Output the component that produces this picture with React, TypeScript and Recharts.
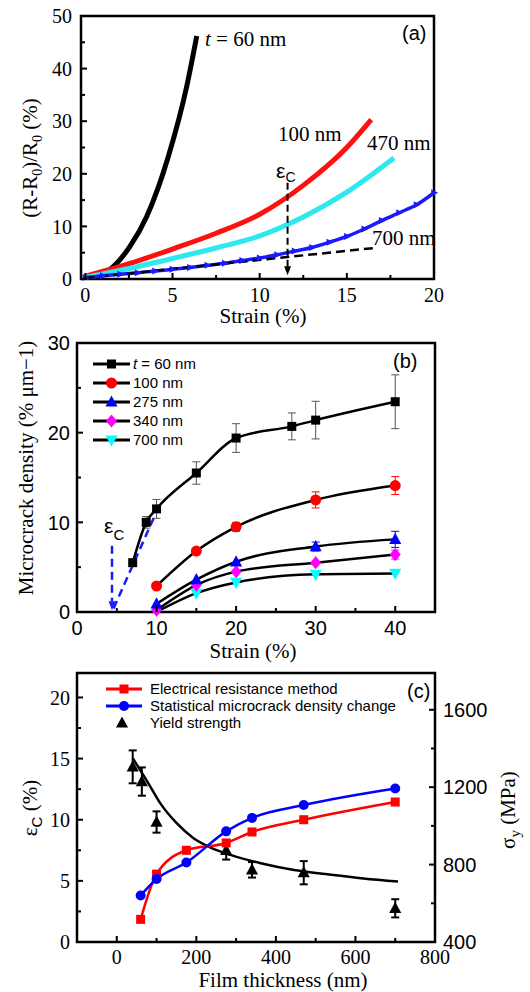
import React from 'react';
import {
  LineChart,
  ComposedChart,
  Line,
  XAxis,
  YAxis,
  ReferenceArea,
  ReferenceLine,
  ReferenceDot,
  ErrorBar,
  Legend,
} from 'recharts';

const SERIF = '"Liberation Serif", "Times New Roman", serif';
const SANS = '"Liberation Sans", Arial, sans-serif';

// ---- panel (a): resistance change vs strain
const strainA60 = [0, 1, 1.8, 2.56, 3.52, 4.76, 5.82, 6.39];
const resA60 = [0.4, 1.0, 3.0, 6.2, 11.9, 23.3, 36.7, 46.2];
const strainA100 = [0, 2.5, 5, 7.5, 10, 12.5, 15, 16.4];
const resA100 = [0.5, 2.9, 5.7, 8.7, 12.3, 17.8, 25, 30.3];
const strainA470 = [0, 2.5, 5, 7.5, 10, 12.5, 15, 17.7];
const resA470 = [0.3, 2.0, 3.9, 5.9, 8.2, 11.8, 16.5, 23];
const strainA700 = [0, 1, 2, 3, 4, 5, 6, 7, 8, 9, 10, 11, 12, 13, 14, 15, 16, 17, 18, 19, 20];
const resA700 = [0.3, 0.6, 0.9, 1.2, 1.5, 1.85, 2.2, 2.6, 3.0, 3.5, 4.0, 4.6, 5.3, 6.0, 7.0, 8.1, 9.5, 11.1, 12.6, 14.1, 16.4];
const strainLinear = [0, 16.6];
const resLinear = [0.2, 5.9];
const epsCA = 11.6;

// ---- panel (b): microcrack density vs strain
const strainB60 = [7, 8.7, 10, 15, 20, 27, 30, 40];
const dens60 = [5.5, 10.0, 11.5, 15.5, 19.4, 20.7, 21.4, 23.45];
const err60 = [0, 0.65, 1.05, 1.25, 1.6, 1.5, 2.1, 3.0];
const strainB = [10, 15, 20, 30, 40];
const dens100 = [2.9, 6.8, 9.5, 12.5, 14.1];
const err100 = [0, 0, 0.5, 0.9, 1.0];
const dens275 = [0.9, 3.6, 5.6, 7.3, 8.1];
const err275 = [0, 0, 0, 0.5, 0.9];
const dens340 = [0.2, 3.0, 4.5, 5.5, 6.4];
const err340 = [0, 0, 0, 0, 0.5];
const dens700 = [0, 2.1, 3.3, 4.2, 4.3];
const strainOnset = [4.6, 9.9];
const densOnset = [0.4, 11];
const epsCB = 4.4;

// ---- panel (c): critical strain and yield strength vs thickness
const thick = [60, 100, 175, 275, 340, 470, 700];
const epsElectrical = [1.85, 5.55, 7.5, 8.1, 9.0, 10.0, 11.45];
const epsMicrocrack = [3.8, 5.15, 6.5, 9.05, 10.15, 11.2, 12.55];
const thickYield = [40, 63, 100, 275, 340, 470, 700];
const yieldStrength = [1305, 1229, 1020, 874, 773, 758, 574];
const yieldErr = [85, 73, 55, 48, 40, 60, 47];
const thickFit = [40, 75, 110, 150, 193, 236, 286, 362, 446, 539, 620, 707];
const yieldFit = [1350, 1235, 1115, 1015, 936, 888, 850, 807, 772, 747, 728, 712];

const pts = (xs: number[], ys: number[], es?: number[]) =>
  xs.map((x, i) => ({ x, y: ys[i], e: es ? es[i] : 0 }));

const range = (a: number, b: number, s: number) => {
  const out: number[] = [];
  for (let v = a; v <= b + 1e-9; v += s) out.push(Math.round(v * 100) / 100);
  return out;
};

function makeTick(side: 'left' | 'right' | 'bottom', majors: number[], font: string, gap: number) {
  return (p: any) => {
    const x = Number(p.x);
    const y = Number(p.y);
    const v = p.payload?.value;
    const major = majors.includes(v);
    const len = major ? 6 : 4;
    const txt = { fontFamily: font, fontSize: 20, fill: '#000' };
    if (side === 'left') {
      return (
        <g>
          <line x1={x} y1={y} x2={x + len} y2={y} stroke="#000" strokeWidth={2} />
          {major && (
            <text x={x - gap} y={y} dy="0.36em" textAnchor="end" {...txt}>{v}</text>
          )}
        </g>
      );
    }
    if (side === 'right') {
      return (
        <g>
          <line x1={x} y1={y} x2={x - len} y2={y} stroke="#000" strokeWidth={2} />
          {major && (
            <text x={x + gap} y={y} dy="0.36em" textAnchor="start" {...txt}>{v}</text>
          )}
        </g>
      );
    }
    return (
      <g>
        <line x1={x} y1={y} x2={x} y2={y - len} stroke="#000" strokeWidth={2} />
        {major && (
          <text x={x} y={y + gap} textAnchor="middle" {...txt}>{v}</text>
        )}
      </g>
    );
  };
}

// marker shapes
const square = (fill: string, s: number) => (p: any) =>
  <rect key={p.index} x={p.cx - s / 2} y={p.cy - s / 2} width={s} height={s} fill={fill} />;
const circle = (fill: string, r: number) => (p: any) =>
  <circle key={p.index} cx={p.cx} cy={p.cy} r={r} fill={fill} />;
const triUp = (fill: string, s: number) => (p: any) => (
  <path key={p.index} fill={fill}
    d={`M${p.cx},${p.cy - s * 0.6}L${p.cx + s * 0.55},${p.cy + s * 0.42}L${p.cx - s * 0.55},${p.cy + s * 0.42}Z`} />
);
const triDown = (fill: string, s: number, skipFirst = false) => (p: any) =>
  skipFirst && p.index === 0 ? <g key={p.index} /> : (
    <path key={p.index} fill={fill}
      d={`M${p.cx},${p.cy + s * 0.6}L${p.cx + s * 0.55},${p.cy - s * 0.42}L${p.cx - s * 0.55},${p.cy - s * 0.42}Z`} />
  );
const diamond = (fill: string, s: number) => (p: any) => (
  <path key={p.index} fill={fill}
    d={`M${p.cx},${p.cy - s * 0.6}L${p.cx + s * 0.5},${p.cy}L${p.cx},${p.cy + s * 0.6}L${p.cx - s * 0.5},${p.cy}Z`} />
);
const triRight = (fill: string, s: number) => (p: any) => (
  <path key={p.index} fill={fill}
    d={`M${p.cx + s * 0.6},${p.cy}L${p.cx - s * 0.4},${p.cy - s * 0.5}L${p.cx - s * 0.4},${p.cy + s * 0.5}Z`} />
);
const arrowDown = (fill: string) => (p: any) => (
  <path fill={fill} d={`M${p.cx - 3.5},${p.cy - 9}L${p.cx + 3.5},${p.cy - 9}L${p.cx},${p.cy}Z`} />
);

const axisCommon = {
  type: 'number' as const,
  interval: 0 as const,
  tickSize: 0,
  tickMargin: 0,
  axisLine: false,
  tickLine: false,
};

function ChartA() {
  return (
    <LineChart width={530} height={330} margin={{ top: 16, right: 96, bottom: 0, left: 0 }}>
      <XAxis {...axisCommon} dataKey="x" domain={[-0.25, 20]} ticks={range(0, 20, 2.5)} height={51}
        tick={makeTick('bottom', [0, 5, 10, 15, 20], SERIF, 23)} />
      <YAxis {...axisCommon} domain={[0, 50]} ticks={range(0, 50, 5)} width={81}
        tick={makeTick('left', [0, 10, 20, 30, 40, 50], SERIF, 9)} />
      <ReferenceArea x1={-0.25} x2={20} y1={0} y2={50} fill="none" stroke="#000" strokeWidth={2.5} />
      <Line data={pts(strainA60, resA60)} dataKey="y" type="monotone" stroke="#000" strokeWidth={5} dot={false} isAnimationActive={false} />
      <Line data={pts(strainA100, resA100)} dataKey="y" type="monotone" stroke="#ff1010" strokeWidth={5} dot={false} isAnimationActive={false} />
      <Line data={pts(strainA470, resA470)} dataKey="y" type="monotone" stroke="#2ee8ee" strokeWidth={5} dot={false} isAnimationActive={false} />
      <Line data={pts(strainA700, resA700)} dataKey="y" type="monotone" stroke="#1a1aff" strokeWidth={3.5} dot={triRight('#1a1aff', 7)} isAnimationActive={false} />
      <Line data={pts(strainLinear, resLinear)} dataKey="y" type="linear" stroke="#000" strokeWidth={2.5} strokeDasharray="9 5" dot={false} isAnimationActive={false} />
      <ReferenceLine segment={[{ x: epsCA, y: 18.3 }, { x: epsCA, y: 2 }]} stroke="#000" strokeWidth={2} strokeDasharray="7 4" />
      <ReferenceDot x={epsCA} y={0.7} r={0} shape={arrowDown('#000')} />
    </LineChart>
  );
}

const legendB = [
  { label: 't', rest: ' = 60 nm', shape: square('#000', 9) },
  { label: '', rest: '100 nm', shape: circle('#ff0000', 5.5) },
  { label: '', rest: '275 nm', shape: triUp('#0000ff', 11) },
  { label: '', rest: '340 nm', shape: diamond('#ff00ff', 11) },
  { label: '', rest: '700 nm', shape: triDown('#00ffff', 11) },
];

function LegendB() {
  return (
    <svg width={150} height={100}>
      {legendB.map((r, i) => {
        const cy = 9 + 19 * i;
        return (
          <g key={i}>
            <line x1={5} y1={cy} x2={42} y2={cy} stroke="#000" strokeWidth={3} />
            {r.shape({ cx: 23.5, cy, index: i })}
            <text x={45} y={cy} dy="0.36em" fontFamily={SANS} fontSize={15} fill="#000">
              {r.label && <tspan fontStyle="italic">{r.label}</tspan>}
              {r.rest}
            </text>
          </g>
        );
      })}
    </svg>
  );
}

function ChartB() {
  const errStyle = (c: string) => ({ dataKey: 'e', width: 4, strokeWidth: 1, stroke: c, direction: 'y' as const });
  return (
    <LineChart width={530} height={335} margin={{ top: 13, right: 95, bottom: 0, left: 0 }}>
      <XAxis {...axisCommon} dataKey="x" domain={[0, 45]} ticks={range(0, 45, 5)} height={53}
        tick={makeTick('bottom', [0, 10, 20, 30, 40], SANS, 23)} />
      <YAxis {...axisCommon} domain={[0, 30]} ticks={range(0, 30, 5)} width={77}
        tick={makeTick('left', [0, 10, 20, 30], SANS, 7)} />
      <ReferenceArea x1={0} x2={45} y1={0} y2={30} fill="none" stroke="#000" strokeWidth={2.5} />
      <Legend layout="vertical" align="center" verticalAlign="middle"
        wrapperStyle={{ left: 88, top: 25, width: 150, height: 100 }} content={() => <LegendB />} />
      <Line data={pts(strainB, dens700)} dataKey="y" type="monotone" stroke="#000" strokeWidth={2.5} dot={triDown('#00ffff', 11, true)} isAnimationActive={false} />
      <Line data={pts(strainB, dens340, err340)} dataKey="y" type="monotone" stroke="#000" strokeWidth={2.5} dot={diamond('#ff00ff', 11)} isAnimationActive={false}>
        <ErrorBar {...errStyle('#ff00ff')} />
      </Line>
      <Line data={pts(strainB, dens275, err275)} dataKey="y" type="monotone" stroke="#000" strokeWidth={2.5} dot={triUp('#0000ff', 11)} isAnimationActive={false}>
        <ErrorBar {...errStyle('#0000ff')} />
      </Line>
      <Line data={pts(strainB, dens100, err100)} dataKey="y" type="monotone" stroke="#000" strokeWidth={2.5} dot={circle('#ff0000', 5.5)} isAnimationActive={false}>
        <ErrorBar {...errStyle('#ff0000')} />
      </Line>
      <Line data={pts(strainOnset, densOnset)} dataKey="y" type="linear" stroke="#1a1aff" strokeWidth={2.5} strokeDasharray="8 5" dot={false} isAnimationActive={false} />
      <Line data={pts(strainB60, dens60, err60)} dataKey="y" type="monotone" stroke="#000" strokeWidth={2.5} dot={square('#000', 9)} isAnimationActive={false}>
        <ErrorBar {...errStyle('#555')} />
      </Line>
      <ReferenceLine segment={[{ x: epsCB, y: 7.4 }, { x: epsCB, y: 1.2 }]} stroke="#1a1aff" strokeWidth={2.5} strokeDasharray="8 5" />
      <ReferenceDot x={epsCB} y={0.2} r={0} shape={arrowDown('#1a1aff')} />
    </LineChart>
  );
}

function LegendC() {
  return (
    <svg width={300} height={55}>
      <line x1={6} y1={9} x2={42} y2={9} stroke="#ff0000" strokeWidth={3} />
      {square('#ff0000', 9)({ cx: 24, cy: 9, index: 0 })}
      <text x={50} y={9} dy="0.36em" fontFamily={SANS} fontSize={15}>Electrical resistance method</text>
      <line x1={6} y1={26} x2={42} y2={26} stroke="#0000ff" strokeWidth={3} />
      {circle('#0000ff', 5)({ cx: 24, cy: 26, index: 1 })}
      <text x={50} y={26} dy="0.36em" fontFamily={SANS} fontSize={15}>Statistical microcrack density change</text>
      {triUp('#000', 11)({ cx: 22, cy: 43, index: 2 })}
      <text x={50} y={43} dy="0.36em" fontFamily={SANS} fontSize={15}>Yield strength</text>
    </svg>
  );
}

function ChartC() {
  return (
    <ComposedChart width={530} height={327} margin={{ top: 8, right: 0, bottom: 0, left: 0 }}>
      <XAxis {...axisCommon} dataKey="x" domain={[-100, 800]} ticks={range(0, 800, 100)} height={50}
        tick={makeTick('bottom', [0, 200, 400, 600, 800], SERIF, 22)} />
      <YAxis {...axisCommon} yAxisId="left" domain={[0, 22]} ticks={range(0, 20, 2.5)} width={77}
        tick={makeTick('left', [0, 5, 10, 15, 20], SERIF, 7)} />
      <YAxis {...axisCommon} yAxisId="right" orientation="right" domain={[400, 1790]} ticks={range(400, 1600, 200)} width={95}
        tick={makeTick('right', [400, 800, 1200, 1600], SANS, 8)} />
      <ReferenceArea yAxisId="left" x1={-100} x2={800} y1={0} y2={22} fill="none" stroke="#000" strokeWidth={2.5} />
      <Legend layout="vertical" align="center" verticalAlign="middle"
        wrapperStyle={{ left: 100, top: 15, width: 300, height: 55 }} content={() => <LegendC />} />
      <Line yAxisId="right" data={pts(thickFit, yieldFit)} dataKey="y" type="monotone" stroke="#000" strokeWidth={2.5} dot={false} isAnimationActive={false} />
      <Line yAxisId="right" data={pts(thickYield, yieldStrength, yieldErr)} dataKey="y" stroke="none" dot={triUp('#000', 11)} isAnimationActive={false}>
        <ErrorBar dataKey="e" width={4} strokeWidth={2} stroke="#000" direction="y" />
      </Line>
      <Line yAxisId="left" data={pts(thick, epsElectrical)} dataKey="y" type="monotone" stroke="#ff0000" strokeWidth={2.5} dot={square('#ff0000', 9)} isAnimationActive={false} />
      <Line yAxisId="left" data={pts(thick, epsMicrocrack)} dataKey="y" type="monotone" stroke="#0000ff" strokeWidth={2.5} dot={circle('#0000ff', 5)} isAnimationActive={false} />
    </ComposedChart>
  );
}

function Texts() {
  const serif = { fontFamily: SERIF, fontSize: 21, fill: '#000' };
  const sans = { fontFamily: SANS, fontSize: 20, fill: '#000' };
  return (
    <svg width={530} height={992} style={{ position: 'absolute', left: 0, top: 0, pointerEvents: 'none' }}>
      {/* (a) */}
      <text {...serif} transform="translate(37,158) rotate(-90)" textAnchor="middle">
        (R-R<tspan fontSize={14} dy={5}>0</tspan><tspan dy={-5}>)/R</tspan><tspan fontSize={14} dy={5}>0</tspan><tspan dy={-5}> (%)</tspan>
      </text>
      <text {...serif} x={263} y={323} textAnchor="middle">Strain (%)</text>
      <text {...sans} x={402} y={40}>(a)</text>
      <text {...serif} x={205} y={46}><tspan fontStyle="italic">t</tspan> = 60 nm</text>
      <text {...serif} x={278} y={141}>100 nm</text>
      <text {...serif} x={367} y={150}>470 nm</text>
      <text {...serif} x={372} y={245}>700 nm</text>
      <text fontFamily={SANS} fontSize={21} x={276} y={178}>ε<tspan fontSize={14} dy={4}>C</tspan></text>

      {/* (b) */}
      <text {...serif} transform="translate(33,468) rotate(-90)" textAnchor="middle">Microcrack density (% μm−1)</text>
      <text {...serif} x={253} y={658} textAnchor="middle">Strain (%)</text>
      <text {...sans} x={393} y={368}>(b)</text>
      <text fontFamily={SANS} fontSize={21} x={104} y={533}>ε<tspan fontSize={15} dy={7}>C</tspan></text>

      {/* (c) */}
      <text {...serif} transform="translate(37,808) rotate(-90)" textAnchor="middle">
        ε<tspan fontFamily={SANS} fontSize={15} dy={5}>C</tspan><tspan dy={-5}> (%)</tspan>
      </text>
      <text {...serif} transform="translate(515,810) rotate(-90)" textAnchor="middle">
        σ<tspan fontSize={15} dy={5}>y</tspan><tspan dy={-5}> (MPa)</tspan>
      </text>
      <text {...serif} x={283} y={987} textAnchor="middle">Film thickness (nm)</text>
      <text {...sans} x={407} y={698}>(c)</text>
    </svg>
  );
}

export default function App() {
  return (
    <div style={{ position: 'absolute', left: 0, top: 0, width: 530, height: 992, background: '#fff', overflow: 'hidden' }}>
      <div style={{ position: 'absolute', left: 0, top: 0 }}><ChartA /></div>
      <div style={{ position: 'absolute', left: 0, top: 330 }}><ChartB /></div>
      <div style={{ position: 'absolute', left: 0, top: 665 }}><ChartC /></div>
      <Texts />
    </div>
  );
}
